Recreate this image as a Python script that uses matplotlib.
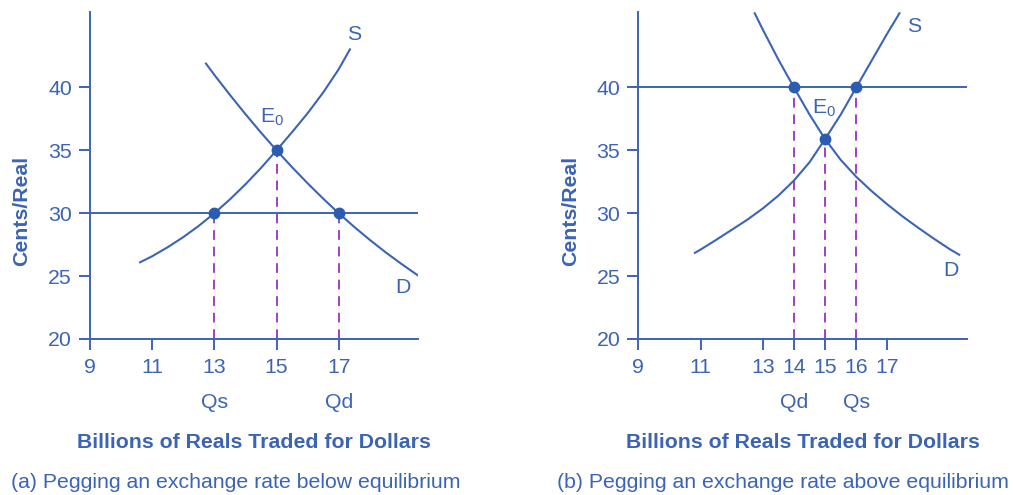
import matplotlib
matplotlib.use("Agg")
import matplotlib.pyplot as plt

plt.rcParams['font.family'] = ['Liberation Sans', 'DejaVu Sans']
plt.rcParams['mathtext.default'] = 'regular'

BLUE = '#3b64b4'
DOT = '#2a5db2'
MAG = '#a33fc2'
FS = 15.3

# ---------------- data ----------------
x_ticks_a = [9, 11, 13, 15, 17]
x_ticks_b = [9, 11, 13, 14, 15, 16, 17]
y_ticks = [20, 25, 30, 35, 40]

# panel (a)
supply_a_x = [10.61, 11.0, 11.5, 12.0, 12.5, 13.0, 13.5, 14.0, 14.5, 15.0, 15.5, 16.0, 16.5, 17.0, 17.36]
supply_a_y = [26.1, 26.58, 27.3, 28.1, 29.0, 30.0, 31.1, 32.3, 33.6, 35.0, 36.45, 37.95, 39.6, 41.45, 43.03]
demand_a_x = [12.73, 13.0, 13.5, 14.0, 14.5, 15.0, 15.5, 16.0, 16.5, 17.0, 17.5, 18.0, 18.5, 19.0, 19.55]
demand_a_y = [41.9, 41.0, 39.41, 37.88, 36.41, 35.0, 33.66, 32.38, 31.16, 30.0, 28.91, 27.88, 26.91, 26.0, 25.05]
peg_a = 30
points_a_x = [13, 15, 17]
points_a_y = [30, 35, 30]
qlabels_a = ['Qs', 'Qd']
qpos_a = [13, 17]

# panel (b)
supply_b_x = [10.82, 11.0, 11.5, 12.0, 12.5, 13.0, 13.5, 14.0, 14.5, 15.0, 15.5, 16.0, 16.5, 17.0, 17.39]
supply_b_y = [26.85, 27.11, 27.88, 28.68, 29.48, 30.38, 31.4, 32.6, 34.05, 35.9, 37.83, 40.0, 42.15, 44.3, 45.9]
demand_b_x = [12.74, 13.0, 13.5, 14.0, 14.5, 15.0, 15.5, 16.0, 16.5, 17.0, 17.5, 18.0, 18.5, 19.0, 19.31]
demand_b_y = [45.9, 44.6, 42.22, 40.0, 37.85, 35.9, 34.25, 32.9, 31.75, 30.7, 29.73, 28.83, 27.97, 27.15, 26.7]
peg_b = 40
points_b_x = [14, 15, 16]
points_b_y = [40, 35.9, 40]
qlabels_b = ['Qd', 'Qs']
qpos_b = [14, 16]

xlabel = 'Billions of Reals Traded for Dollars'
ylabel = 'Cents/Real'
captions = ['(a) Pegging an exchange rate below equilibrium',
            '(b) Pegging an exchange rate above equilibrium']

# ---------------- figure ----------------
W, H = 1013, 495
fig = plt.figure(figsize=(W / 100, H / 100), dpi=100)

def px_ax(left, right, top, bottom):
    return fig.add_axes([left / W, 1 - bottom / H, (right - left) / W, (bottom - top) / H])

ax_a = px_ax(90, 418, 12, 339)
ax_b = px_ax(638.3, 966.7, 12, 339)

panels = [
    (ax_a, x_ticks_a, supply_a_x, supply_a_y, demand_a_x, demand_a_y, peg_a,
     points_a_x, points_a_y, qlabels_a, qpos_a,
     (14.84, 37.62), (17.49, 44.18), (19.06, 24.1)),
    (ax_b, x_ticks_b, supply_b_x, supply_b_y, demand_b_x, demand_b_y, peg_b,
     points_b_x, points_b_y, qlabels_b, qpos_b,
     (14.97, 38.35), (17.85, 44.88), (19.04, 25.47)),
]

for (ax, xt, sx, sy, dx, dy, peg, px_, py_, ql, qp, e0, spos, dpos) in panels:
    ax.set_xlim(9, 19.55)
    ax.set_ylim(20, 46)
    for s in ['top', 'right']:
        ax.spines[s].set_visible(False)
    for s in ['left', 'bottom']:
        ax.spines[s].set_color(BLUE)
        ax.spines[s].set_linewidth(1.4)
    ax.set_xticks(xt)
    ax.set_yticks(y_ticks)
    ax.tick_params(axis='both', direction='out', length=8, width=1.4, color=BLUE,
                   labelcolor=BLUE, labelsize=FS)
    ax.tick_params(axis='x', pad=6)
    ax.tick_params(axis='y', pad=5)
    ax.patch.set_visible(False)

    # peg line
    ax.plot([9, 19.55], [peg, peg], color=BLUE, lw=1.4, solid_capstyle='butt')
    # dashed drops
    for x0, y0 in zip(px_, py_):
        ax.plot([x0, x0], [20, y0], color=MAG, lw=1.4, ls=(0, (5, 3.5)))
    # curves
    ax.plot(sx, sy, color=BLUE, lw=1.5, solid_joinstyle='round')
    ax.plot(dx, dy, color=BLUE, lw=1.5, solid_joinstyle='round')
    # points
    ax.plot(px_, py_, 'o', color=DOT, ms=7.5, zorder=5)

    ax.text(e0[0], e0[1], 'E$_0$', color=BLUE, fontsize=FS, ha='center', va='center')
    ax.text(spos[0], spos[1], 'S', color=BLUE, fontsize=FS, ha='center', va='center')
    ax.text(dpos[0], dpos[1], 'D', color=BLUE, fontsize=FS, ha='center', va='center')

    for lab, q in zip(ql, qp):
        ax.text(q, -0.193, lab, color=BLUE, fontsize=FS, ha='center', va='center',
                transform=ax.get_xaxis_transform())

# axis titles, y labels and captions
fig.text(254 / W, 1 - 443 / H, xlabel, color=BLUE, fontsize=FS, fontweight='bold',
         ha='center', va='center')
fig.text(802.5 / W, 1 - 443 / H, xlabel, color=BLUE, fontsize=FS, fontweight='bold',
         ha='center', va='center')
fig.text(22 / W, 1 - 211 / H, ylabel, color=BLUE, fontsize=FS, fontweight='bold',
         ha='center', va='center', rotation=90)
fig.text(571 / W, 1 - 211 / H, ylabel, color=BLUE, fontsize=FS, fontweight='bold',
         ha='center', va='center', rotation=90)
fig.text(236 / W, 1 - 482 / H, captions[0], color=BLUE, fontsize=FS,
         ha='center', va='center')
fig.text(783 / W, 1 - 482 / H, captions[1], color=BLUE, fontsize=FS,
         ha='center', va='center')

fig.savefig('out.png', dpi=100)
